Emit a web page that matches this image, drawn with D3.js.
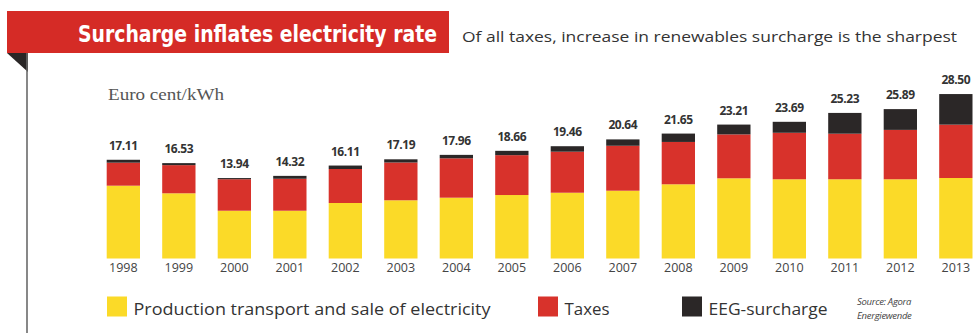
<!DOCTYPE html>
<html>
<head>
<meta charset="utf-8">
<script src="https://cdn.jsdelivr.net/npm/d3@7/dist/d3.min.js"></script>
<style>
  html, body { margin: 0; padding: 0; background: #fff; }
  svg { display: block; }
</style>
</head>
<body>
<svg id="chart" width="973" height="333"></svg>
<script>
// Electricity price components for German households, euro cent per kWh
const years = ["1998","1999","2000","2001","2002","2003","2004","2005",
               "2006","2007","2008","2009","2010","2011","2012","2013"];
const production = [12.62, 11.30, 8.28, 8.28, 9.62, 10.09, 10.54, 11.00,
                    11.40, 11.75, 12.86, 13.90, 13.73, 13.73, 13.73, 13.95];
const taxes      = [3.99, 4.88, 5.46, 5.54, 5.89, 6.55, 6.82, 6.91,
                    7.11, 7.79, 7.34, 7.61, 8.06, 7.90, 8.56, 9.25];
const eeg        = [0.50, 0.35, 0.20, 0.50, 0.60, 0.55, 0.60, 0.75,
                    0.95, 1.10, 1.45, 1.70, 1.90, 3.60, 3.60, 5.30];
const totals     = ["17.11","16.53","13.94","14.32","16.11","17.19","17.96","18.66",
                    "19.46","20.64","21.65","23.21","23.69","25.23","25.89","28.50"];
const seriesKeys   = ["production", "taxes", "eeg"];
const seriesLabels = ["Production transport and sale of electricity", "Taxes", "EEG-surcharge"];
const seriesColors = ["#FBDA28", "#D8322B", "#2B2727"];

const titleText    = "Surcharge inflates electricity rate";
const subtitleText = "Of all taxes, increase in renewables surcharge is the sharpest";
const unitText     = "Euro cent/kWh";
const sourceLines  = ["Source: Agora", "Energiewende"];

const svg = d3.select("#chart");

const rows = years.map((y, i) => ({
  year: y, production: production[i], taxes: taxes[i], eeg: eeg[i], total: totals[i]
}));
const stacked = d3.stack().keys(seriesKeys)(rows);

const x = d3.scaleBand().domain(years).range([95.6, 983.6])
  .paddingInner(0.4).paddingOuter(0.2);
const y = d3.scaleLinear().domain([0, 30]).range([258.5, 258.5 - 30 * 5.77]);
const color = d3.scaleOrdinal().domain(seriesKeys).range(seriesColors);

// header banner
svg.append("rect").attr("x", 7).attr("y", 11).attr("width", 442).attr("height", 42)
  .attr("fill", "#D52B26");
svg.append("path").attr("d", "M7,53 L28,53 L28,72 Z").attr("fill", "#2A2626");
svg.append("line").attr("x1", 27).attr("x2", 27).attr("y1", 53).attr("y2", 333)
  .attr("stroke", "#6a6a6a").attr("stroke-width", 1.6);

function fit(sel, width) {
  sel.attr("textLength", width).attr("lengthAdjust", "spacingAndGlyphs");
  return sel;
}

fit(svg.append("text").attr("x", 78).attr("y", 42)
  .attr("font-family", "'Liberation Sans Narrow','DejaVu Sans Condensed','Open Sans',sans-serif")
  .attr("font-weight", "bold").attr("font-size", 23).attr("fill", "#fff")
  .text(titleText), 359);

fit(svg.append("text").attr("x", 462).attr("y", 42)
  .attr("font-family", "'Open Sans',sans-serif")
  .attr("font-size", 15).attr("fill", "#333")
  .text(subtitleText), 495);

fit(svg.append("text").attr("x", 108).attr("y", 100)
  .attr("font-family", "'Liberation Serif','DejaVu Serif',serif")
  .attr("font-size", 17).attr("fill", "#555")
  .text(unitText), 116);

// stacked bars
svg.append("g").selectAll("g").data(stacked).join("g")
  .attr("fill", d => color(d.key))
  .selectAll("rect").data(d => d).join("rect")
  .attr("x", d => x(d.data.year))
  .attr("width", x.bandwidth())
  .attr("y", d => y(d[1]))
  .attr("height", d => y(d[0]) - y(d[1]));

// total value above each bar
svg.append("g").selectAll("text").data(rows).join("text")
  .attr("x", d => x(d.year) + x.bandwidth() / 2)
  .attr("y", d => y(+d.total) - 10)
  .attr("text-anchor", "middle")
  .attr("font-family", "'Open Sans',sans-serif")
  .attr("font-weight", "bold").attr("font-size", 12)
  .attr("letter-spacing", -0.4)
  .attr("fill", "#333")
  .text(d => d.total);

// year axis
const xAxis = svg.append("g").attr("transform", "translate(0,258.5)")
  .call(d3.axisBottom(x).tickSize(0).tickPadding(5));
xAxis.select(".domain").remove();
xAxis.selectAll("text")
  .attr("font-family", "'Open Sans',sans-serif")
  .attr("font-size", 12.5).attr("fill", "#444");

// legend
const legendX = [107, 538, 682];
const legendW = [357, 45, 119];
const legend = svg.append("g").selectAll("g").data(seriesKeys).join("g")
  .attr("transform", (d, i) => `translate(${legendX[i]},296.5)`);
legend.append("rect").attr("width", 20).attr("height", 20)
  .attr("fill", d => color(d));
legend.append("text").attr("x", 26.5).attr("y", 18)
  .attr("font-family", "'Open Sans',sans-serif")
  .attr("font-size", 15.5).attr("fill", "#333")
  .text((d, i) => seriesLabels[i])
  .each(function(d, i) { fit(d3.select(this), legendW[i]); });

svg.append("g").selectAll("text").data(sourceLines).join("text")
  .attr("x", 857).attr("y", (d, i) => 304.5 + i * 14.5)
  .attr("font-family", "'Open Sans',sans-serif")
  .attr("font-style", "italic").attr("font-size", 9.5)
  .attr("letter-spacing", -0.3)
  .attr("fill", "#444")
  .text(d => d);
</script>
</body>
</html>
